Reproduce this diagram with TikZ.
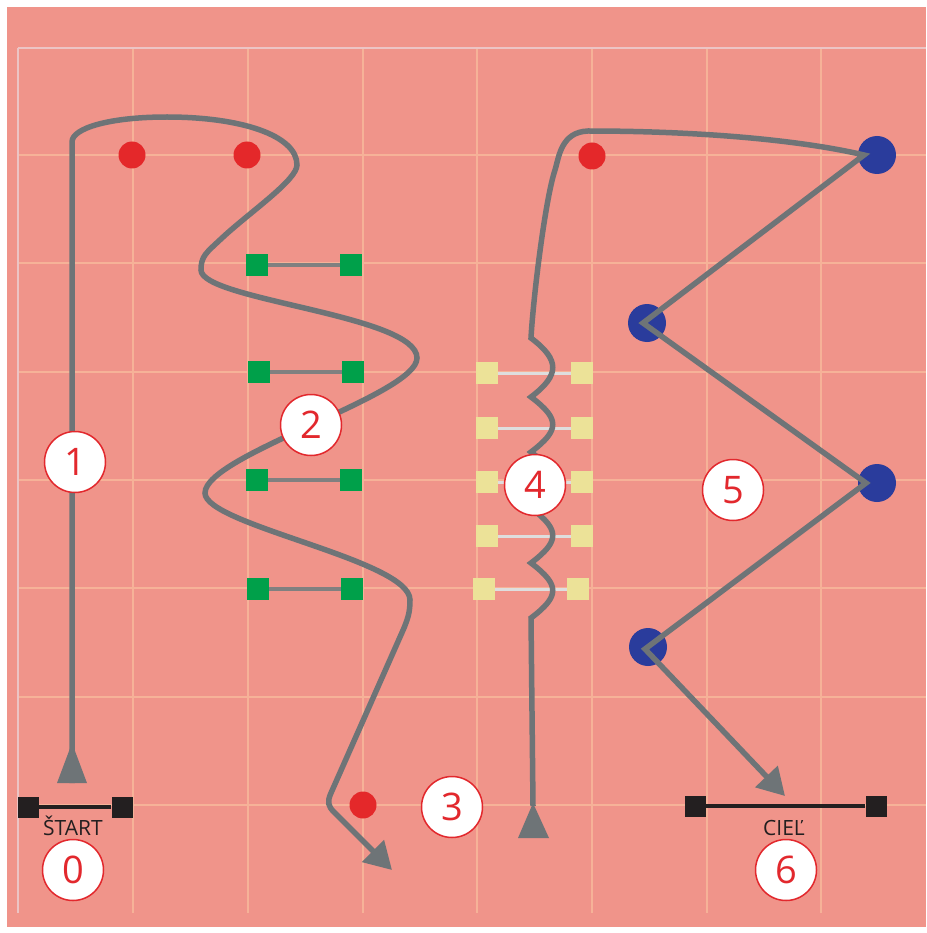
\documentclass[tikz,border=0pt]{standalone}
\usepackage{fontspec}
\setmainfont{Open Sans}
\usetikzlibrary{arrows.meta}
\definecolor{bgpink}{RGB}{240,148,138}
\definecolor{gridc}{RGB}{246,178,152}
\definecolor{edgec}{RGB}{236,196,196}
\definecolor{routec}{RGB}{110,116,119}
\definecolor{dotred}{RGB}{228,40,42}
\definecolor{sqgreen}{RGB}{0,160,74}
\definecolor{sqyellow}{RGB}{236,226,152}
\definecolor{dotblue}{RGB}{42,60,156}
\definecolor{sqblack}{RGB}{35,31,32}
\definecolor{numred}{RGB}{226,40,45}
\definecolor{gconnc}{RGB}{128,128,128}
\definecolor{yconnc}{RGB}{222,222,222}
\begin{document}
\begin{tikzpicture}[x=1pt,y=-1pt,
  gridline/.style={gridc, line width=2.2pt},
  edgeline/.style={edgec, line width=2.5pt},
  route/.style={routec, line width=5.5pt},
  reddot/.style={circle, fill=dotred, minimum size=27pt, inner sep=0pt},
  bluedot/.style={circle, fill=dotblue, minimum size=38pt, inner sep=0pt},
  gsq/.style={rectangle, fill=sqgreen, minimum size=22pt, inner sep=0pt},
  ysq/.style={rectangle, fill=sqyellow, minimum size=22pt, inner sep=0pt},
  bsq/.style={rectangle, fill=sqblack, minimum size=21pt, inner sep=0pt},
  gconn/.style={gconnc, line width=3.5pt},
  yconn/.style={yconnc, line width=3pt},
  bconn/.style={sqblack, line width=3.5pt},
  numc/.style={circle, draw=numred, fill=white, line width=1.5pt, minimum size=61pt, inner sep=0pt, text=numred, font=\fontsize{38}{38}\selectfont},
  lbl/.style={text=sqblack, font=\fontsize{21}{21}\selectfont, inner sep=0pt, anchor=base},
  tip/.style={-{Triangle[length=27pt,width=30pt]}}
]
\useasboundingbox (0,0) rectangle (926,933);
\fill[white] (0,0) rectangle (926,933);
\fill[bgpink] (7,7) rectangle (926,927);
% grid
\foreach \gx in {133,248,363,477,592,707,821} \draw[gridline] (\gx,48) -- (\gx,913);
\foreach \gy in {155,263,372,480,588,697,805} \draw[gridline] (18,\gy) -- (926,\gy);
\draw[edgeline] (18,48) -- (926,48);
\draw[edgeline] (18,48) -- (18,913);

% green squares
\node[gsq] (g1l) at (257,265) {}; \node[gsq] (g1r) at (351,265) {};
\node[gsq] (g2l) at (259,372) {}; \node[gsq] (g2r) at (353,372) {};
\node[gsq] (g3l) at (257,480) {}; \node[gsq] (g3r) at (351,480) {};
\node[gsq] (g4l) at (258,589) {}; \node[gsq] (g4r) at (352,589) {};
\foreach \i in {1,2,3,4} \draw[gconn] (g\i l) -- (g\i r);

% yellow squares
\node[ysq] (y1l) at (487,373) {}; \node[ysq] (y1r) at (582,373) {};
\node[ysq] (y2l) at (487,428) {}; \node[ysq] (y2r) at (582,428) {};
\node[ysq] (y3l) at (487,482) {}; \node[ysq] (y3r) at (582,482) {};
\node[ysq] (y4l) at (487,536) {}; \node[ysq] (y4r) at (582,536) {};
\node[ysq] (y5l) at (484,589) {}; \node[ysq] (y5r) at (578,589) {};
\foreach \i in {1,2,3,4,5} \draw[yconn] (y\i l) -- (y\i r);

% red dots
\node[reddot] (r1) at (132,155) {};
\node[reddot] (r2) at (247,155) {};
\node[reddot] (r3) at (363,805) {};
\node[reddot] (r4) at (592,156) {};

% blue dots
\node[bluedot] (b1) at (877,155) {};
\node[bluedot] (b2) at (647,323) {};
\node[bluedot] (b3) at (877,483) {};
\node[bluedot] (b4) at (648,647) {};

% start and finish gates
\node[bsq] (s1) at (28,807) {}; \node[bsq] (s2) at (122,807) {};
\draw[bconn] (s1) -- (s2);
\node[bsq] (f1) at (695,806) {}; \node[bsq] (f2) at (876,806) {};
\draw[bconn] (f1) -- (f2);
\node[lbl] (startlbl) at (73,835) {ŠTART};
\node[lbl] (cillbl) at (784,835) {CIEĽ};

% route 1-3
\coordinate (p1s) at (72,783);
\fill[routec] (57,783) -- (87,783) -- (72,743) -- cycle;
\draw[route,tip] (p1s) -- (72,142)
  .. controls (72,128) and (110,117) .. (167,117)
  .. controls (240,117) and (297,135) .. (297,165)
  .. controls (297,180) and (250,212) .. (222,238)
  .. controls (206,253) and (201,256) .. (201,270)
  .. controls (201,300) and (417,315) .. (417,358)
  .. controls (417,395) and (205,455) .. (205,493)
  .. controls (205,525) and (410,560) .. (410,600)
  .. controls (410,612) and (408,618) .. (404,628)
  -- (331,793)
  .. controls (327,802) and (328,806) .. (334,812)
  -- (392,870);

% route 4-5
\coordinate (p4s) at (533,806);
\fill[routec] (518,838) -- (549,838) -- (533,803) -- cycle;
\draw[route,tip] (p4s) -- (531,618)
  .. controls (560,596) and (560,585) .. (531,563)
  .. controls (560,541) and (560,530) .. (531,508)
  .. controls (560,486) and (560,474) .. (531,452)
  .. controls (560,430) and (560,419) .. (531,397)
  .. controls (560,375) and (560,360) .. (531,338)
  .. controls (533,300) and (545,200) .. (555,170)
  .. controls (559,157) and (561,132) .. (588,131)
  .. controls (700,131) and (800,140) .. (864,155)
  -- (643,323) -- (866,483) -- (645,649) -- (785,796);

% numbers
\node[numc] (n0) at (73,870) {0};
\node[numc] (n1) at (75,462) {1};
\node[numc] (n2) at (311,425) {2};
\node[numc] (n3) at (452,807) {3};
\node[numc] (n4) at (535,485) {4};
\node[numc] (n5) at (733,490) {5};
\node[numc] (n6) at (786,870) {6};
\end{tikzpicture}
\end{document}
